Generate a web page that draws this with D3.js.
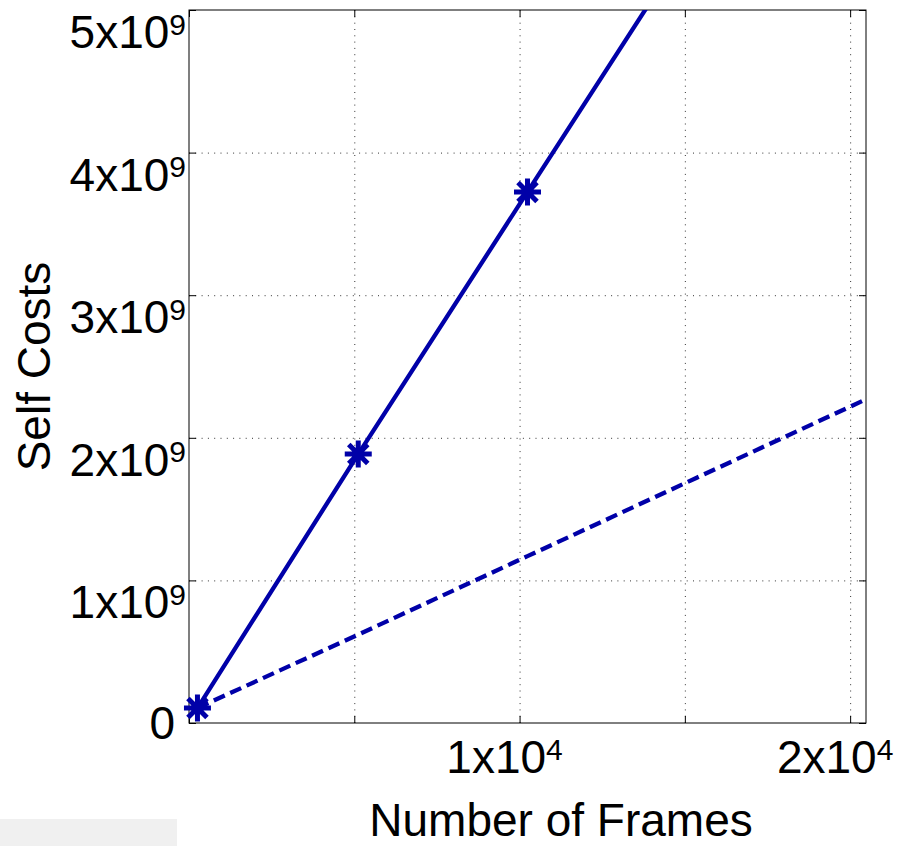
<!DOCTYPE html>
<html><head><meta charset="utf-8">
<script src="https://cdn.jsdelivr.net/npm/d3@7"></script>
<style>
body{margin:0;background:#fff}
svg{display:block}
text{font-family:"Liberation Sans",Arial,Helvetica,sans-serif;fill:#000}
</style>
</head><body>
<svg id="chart" width="902" height="846"></svg>
<script>
// ---- data ----
const framesSolid = [256, 5120, 10240, 15360];
const costsSolid  = [0.105e9, 1.886e9, 3.724e9, 5.56e9];
const framesDashed = [256, 5120, 10240, 15360, 20480];
const costsDashed  = [0.105e9, 0.62e9, 1.17e9, 1.72e9, 2.27e9];

const xTicks = [0, 5000, 10000, 15000, 20000];
const xTickMant = ["", "", "1x10", "", "2x10"];
const xTickExp  = ["", "", "4", "", "4"];
const yTicks = [0, 1e9, 2e9, 3e9, 4e9, 5e9];
const yTickMant = ["0", "1x10", "2x10", "3x10", "4x10", "5x10"];
const yTickExp  = ["", "9", "9", "9", "9", "9"];

const xTitle = "Number of Frames";
const yTitle = "Self Costs";

// ---- layout ----
const L = 189, R = 866, T = 10, B = 723;
const lineColor = "#0000a8";

const svg = d3.select("#chart");
const x = d3.scaleLinear().domain([0, 20480]).range([L, R]);
const y = d3.scaleLinear().domain([0, 5e9]).range([B, T]);

// grey strip at bottom-left
svg.append("rect").attr("x", 0).attr("y", 819).attr("width", 177).attr("height", 27).attr("fill", "#f0f0f0");

// grid
const gridX = svg.append("g").attr("transform", `translate(0,${B})`)
  .call(d3.axisBottom(x).tickValues(xTicks.filter(v => v > 0)).tickSize(-(B - T)).tickFormat(""));
gridX.select(".domain").remove();
gridX.selectAll("line").attr("stroke", "#333").attr("stroke-dasharray", "1,5.3");

const gridY = svg.append("g").attr("transform", `translate(${L},0)`)
  .call(d3.axisLeft(y).tickValues(yTicks.filter(v => v > 0 && v < 5e9)).tickSize(-(R - L)).tickFormat(""));
gridY.select(".domain").remove();
gridY.selectAll("line").attr("stroke", "#333").attr("stroke-dasharray", "1,5.3");

// ticks (inward) on all sides
function tickAxis(axis, tr) {
  const g = svg.append("g").attr("transform", tr).call(axis.tickSizeInner(-7).tickSizeOuter(0).tickFormat(""));
  g.select(".domain").remove();
  g.selectAll("line").attr("stroke", "#000");
}
tickAxis(d3.axisBottom(x).tickValues(xTicks), `translate(0,${B})`);
tickAxis(d3.axisTop(x).tickValues(xTicks), `translate(0,${T})`);
tickAxis(d3.axisLeft(y).tickValues(yTicks), `translate(${L},0)`);
tickAxis(d3.axisRight(y).tickValues(yTicks), `translate(${R},0)`);

// frame
svg.append("rect").attr("x", L).attr("y", T).attr("width", R - L).attr("height", B - T)
  .attr("fill", "none").attr("stroke", "#000").attr("stroke-width", 1);

// clip
svg.append("clipPath").attr("id", "clip").append("rect")
  .attr("x", L).attr("y", T).attr("width", R - L).attr("height", B - T);

const line = d3.line().x(d => x(d[0])).y(d => y(d[1]));
const solidData = framesSolid.map((f, i) => [f, costsSolid[i]]);
const dashedData = framesDashed.map((f, i) => [f, costsDashed[i]]);

svg.append("path").attr("clip-path", "url(#clip)").datum(dashedData).attr("d", line)
  .attr("fill", "none").attr("stroke", lineColor).attr("stroke-width", 4.3)
  .attr("stroke-dasharray", "12,6");
svg.append("path").attr("clip-path", "url(#clip)").datum(solidData).attr("d", line)
  .attr("fill", "none").attr("stroke", lineColor).attr("stroke-width", 4.3);

// asterisk markers
const r = 13.5, d = 9.5;
const star = `M${-r},0L${r},0M0,${-r}L0,${r}M${-d},${-d}L${d},${d}M${-d},${d}L${d},${-d}`;
svg.append("g").selectAll("path").data(solidData.filter(p => p[1] <= 5e9)).join("path")
  .attr("transform", p => `translate(${x(p[0])},${y(p[1])})`)
  .attr("d", star).attr("fill", "none").attr("stroke", lineColor).attr("stroke-width", 5);

// y tick labels
yTicks.forEach((v, i) => {
  const hasExp = yTickExp[i] !== "";
  const t = svg.append("text").attr("text-anchor", "end")
    .attr("x", hasExp ? L - 3 : L - 14)
    .attr("y", hasExp ? y(v) + 38 : y(v) + 16)
    .style("font-size", "46px");
  t.append("tspan").text(yTickMant[i]);
  if (hasExp) t.append("tspan").style("font-size", "30px").attr("dy", -13.5).text(yTickExp[i]);
});

// x tick labels
xTicks.forEach((v, i) => {
  if (!xTickMant[i]) return;
  const t = svg.append("text").attr("text-anchor", "middle")
    .attr("x", x(v) - 15).attr("y", B + 50).style("font-size", "46px");
  t.append("tspan").text(xTickMant[i]);
  t.append("tspan").style("font-size", "30px").attr("dy", -13.5).text(xTickExp[i]);
});

// titles
svg.append("text").attr("x", 561).attr("y", 836).attr("text-anchor", "middle")
  .style("font-size", "46px").text(xTitle);
svg.append("text").attr("transform", `translate(50,${(T + B) / 2}) rotate(-90)`)
  .attr("text-anchor", "middle").style("font-size", "46px").text(yTitle);
</script>
</body></html>
